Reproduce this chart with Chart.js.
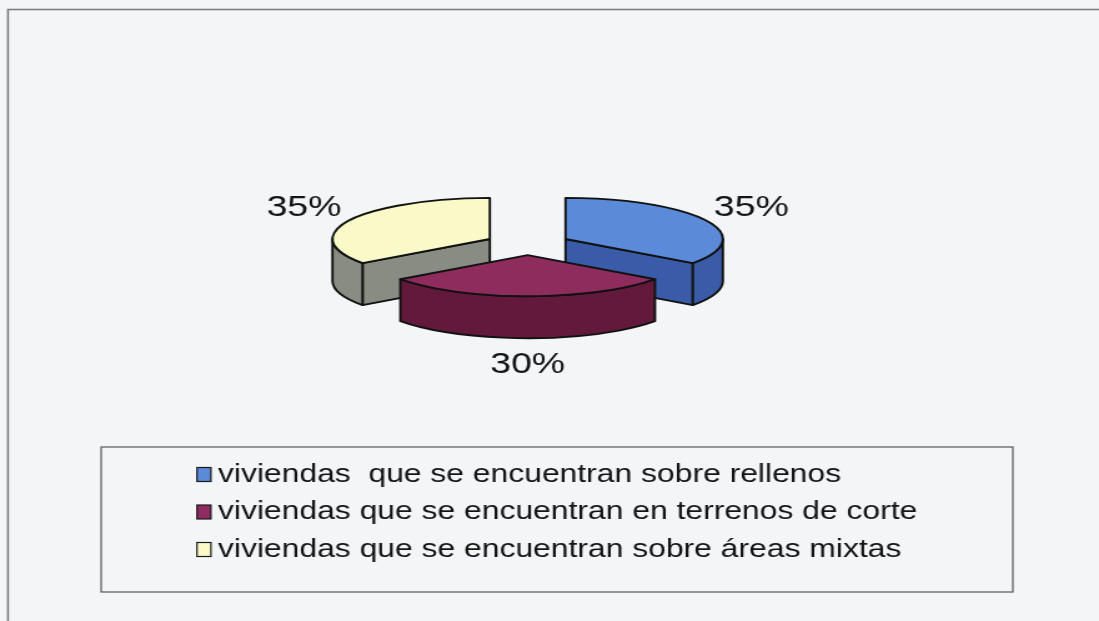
<!DOCTYPE html>
<html>
<head>
<meta charset="utf-8">
<script src="https://cdn.jsdelivr.net/npm/chart.js@4.4.1/dist/chart.umd.min.js"></script>
<style>
  html, body { margin: 0; padding: 0; background: #f3f5f7; overflow: hidden; }
  /* the chart is drawn narrow and widened to the page, as in the printed figure */
  #wrap { width: 880px; height: 621px; transform: scaleX(1.2489); transform-origin: 0 0; }
</style>
</head>
<body>
<div id="wrap"><canvas id="viviendasChart"></canvas></div>
<script>
const categories = [
    'viviendas  que se encuentran sobre rellenos',
    'viviendas que se encuentran en terrenos de corte',
    'viviendas que se encuentran sobre áreas mixtas'
];
const percentages = [35, 30, 35];

const topColors = ['#5a8ad8', '#8e2c5e', '#fafac8'];
const sideColors = ['#3a5ca8', '#63193b', '#888c82'];

// 3d look: vertical squash of the disc and thickness of the slab
const TILT = 0.326;
const DEPTH = 42;
const LABEL_RX = 201;
const LABEL_RY = 79;
const FONT = "'Liberation Sans', Arial, sans-serif";

function onEllipse(ax, ay, r, a) {
    return [ax + r * Math.cos(a), ay + r * TILT * Math.sin(a)];
}

const pie3d = {
    id: 'pie3d',
    beforeDraw(chart) {
        const { ctx, width, height } = chart;
        ctx.save();
        ctx.fillStyle = '#f3f5f7';
        ctx.fillRect(0, 0, width, height);
        // outer chart frame, only its top and left edges are in view
        ctx.strokeStyle = '#7a7a7a';
        ctx.lineWidth = 1.5;
        ctx.beginPath();
        ctx.moveTo(6.4, height);
        ctx.lineTo(6.4, 9.5);
        ctx.lineTo(width, 9.5);
        ctx.stroke();
        ctx.restore();
    },
    beforeDatasetDraw(chart, args) {
        const ctx = chart.ctx;
        const ds = chart.data.datasets[args.index];
        const slices = args.meta.data.map((arc, i) => {
            const mid = (arc.startAngle + arc.endAngle) / 2;
            const off = arc.options.offset;
            return {
                i, s: arc.startAngle, e: arc.endAngle, r: arc.outerRadius,
                ax: arc.x + off * Math.cos(mid),
                ay: arc.y + off * TILT * Math.sin(mid)
            };
        });
        // back slices first
        slices.sort((a, b) => a.ay - b.ay);

        ctx.save();
        ctx.lineJoin = 'round';
        ctx.lineWidth = 1.9;
        ctx.strokeStyle = '#121212';
        slices.forEach(sl => {
            const { ax, ay, r, s, e } = sl;
            ctx.fillStyle = sideColors[sl.i];

            // cut faces turned towards the viewer
            [[s, Math.cos(s) < -1e-6], [e, Math.cos(e) > 1e-6]].forEach(([a, visible]) => {
                if (!visible) return;
                const [px, py] = onEllipse(ax, ay, r, a);
                ctx.beginPath();
                ctx.moveTo(ax, ay);
                ctx.lineTo(px, py);
                ctx.lineTo(px, py + DEPTH);
                ctx.lineTo(ax, ay + DEPTH);
                ctx.closePath();
                ctx.fill();
                ctx.stroke();
            });

            // rim, front half only
            for (let k = -1; k <= 1; k++) {
                const lo = Math.max(s, 2 * Math.PI * k);
                const hi = Math.min(e, 2 * Math.PI * k + Math.PI);
                if (hi - lo < 1e-6) continue;
                ctx.beginPath();
                ctx.ellipse(ax, ay, r, r * TILT, 0, lo, hi);
                ctx.ellipse(ax, ay + DEPTH, r, r * TILT, 0, hi, lo, true);
                ctx.closePath();
                ctx.fill();
                ctx.stroke();
            }

            // top face
            ctx.fillStyle = ds.backgroundColor[sl.i];
            ctx.beginPath();
            ctx.moveTo(ax, ay);
            ctx.ellipse(ax, ay, r, r * TILT, 0, s, e);
            ctx.closePath();
            ctx.fill();
            ctx.stroke();
        });
        ctx.restore();
        return false;
    },
    afterDatasetsDraw(chart) {
        const ctx = chart.ctx;
        const meta = chart.getDatasetMeta(0);
        const values = chart.data.datasets[0].data;
        const total = values.reduce((a, b) => a + b, 0);
        ctx.save();
        ctx.fillStyle = '#141414';
        ctx.font = `30px ${FONT}`;
        ctx.textAlign = 'center';
        ctx.textBaseline = 'middle';
        meta.data.forEach((arc, i) => {
            const mid = (arc.startAngle + arc.endAngle) / 2;
            const x = arc.x + LABEL_RX * Math.cos(mid);
            const y = arc.y + LABEL_RY * Math.sin(mid) + DEPTH * Math.max(0, Math.sin(mid));
            ctx.fillText(Math.round(values[i] / total * 100) + '%', x, y);
        });
        ctx.restore();
    },
    afterDraw(chart) {
        // legend in a framed box below the pie
        const ctx = chart.ctx;
        const ds = chart.data.datasets[0];
        ctx.save();
        ctx.strokeStyle = '#555';
        ctx.lineWidth = 1.2;
        ctx.strokeRect(81, 447, 730, 145);
        ctx.font = `25.5px ${FONT}`;
        ctx.textBaseline = 'middle';
        chart.data.labels.forEach((label, i) => {
            const y = 474.5 + i * 37.5;
            ctx.fillStyle = ds.backgroundColor[i];
            ctx.fillRect(157.7, y - 7, 11.2, 14);
            ctx.strokeStyle = '#1a1a1a';
            ctx.lineWidth = 1.2;
            ctx.strokeRect(157.7, y - 7, 11.2, 14);
            ctx.fillStyle = '#141414';
            ctx.fillText(label, 174.5, y);
        });
        ctx.restore();
    }
};

const ctxPie = document.getElementById('viviendasChart').getContext('2d');
new Chart(ctxPie, {
    type: 'pie',
    data: {
        labels: categories,
        datasets: [{
            data: percentages,
            backgroundColor: topColors,
            offset: 34,
            borderWidth: 0
        }]
    },
    options: {
        responsive: true,
        maintainAspectRatio: false,
        animation: false,
        radius: 126,
        layout: {
            padding: { left: 0, right: 35, top: 0, bottom: 133 }
        },
        plugins: {
            legend: { display: false },
            tooltip: { enabled: false }
        }
    },
    plugins: [pie3d]
});
</script>
</body>
</html>
